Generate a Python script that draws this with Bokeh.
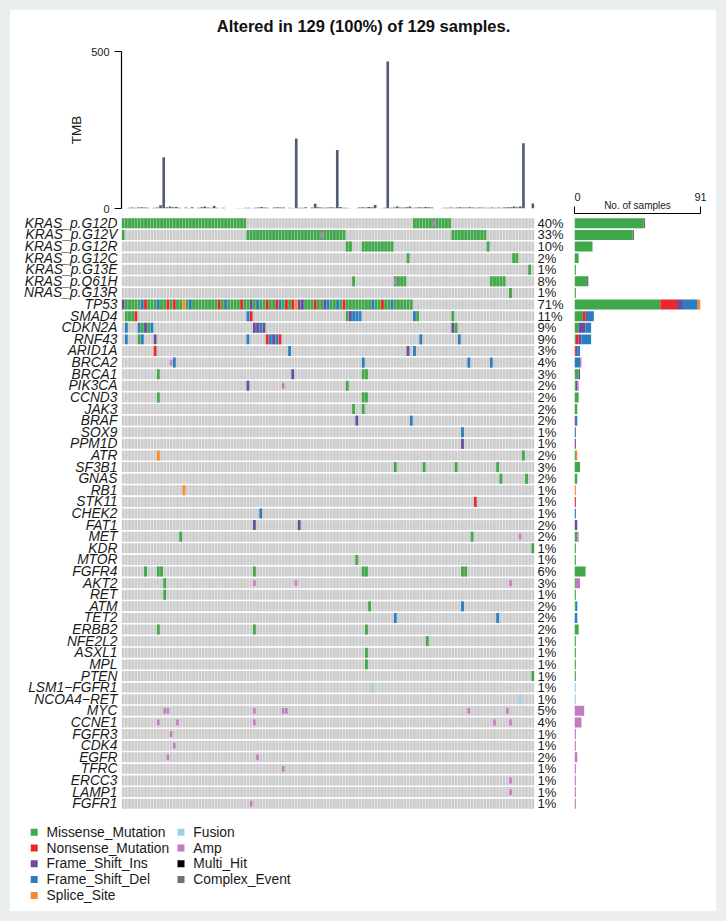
import re
from bokeh.plotting import figure
from bokeh.layouts import column, row
from bokeh.models import Range1d, FixedTicker, LinearAxis, ColumnDataSource
from bokeh.core.properties import value
from bokeh.embed import file_html
from bokeh.resources import INLINE

# ---------------------------------------------------------------- data
N_SAMPLES = 129
title_text = "Altered in 129 (100%) of 129 samples."

genes = [
    "KRAS_p.G12D", "KRAS_p.G12V", "KRAS_p.G12R", "KRAS_p.G12C", "KRAS_p.G13E",
    "KRAS_p.Q61H", "NRAS_p.G13R", "TP53", "SMAD4", "CDKN2A", "RNF43", "ARID1A",
    "BRCA2", "BRCA1", "PIK3CA", "CCND3", "JAK3", "BRAF", "SOX9", "PPM1D", "ATR",
    "SF3B1", "GNAS", "RB1", "STK11", "CHEK2", "FAT1", "MET", "KDR", "MTOR",
    "FGFR4", "AKT2", "RET", "ATM", "TET2", "ERBB2", "NFE2L2", "ASXL1", "MPL",
    "PTEN", "LSM1\u2212FGFR1", "NCOA4\u2212RET", "MYC", "CCNE1", "FGFR3", "CDK4",
    "EGFR", "TFRC", "ERCC3", "LAMP1", "FGFR1",
]

# sample indices (0-based, in plotted order) carrying each alteration type
nonsense = {
    "TP53": [7, 14, 16, 30, 37, 45, 48, 51, 53, 60, 69, 81],
    "SMAD4": [4, 40],
    "RNF43": [45, 49],
    "ARID1A": [10],
    "STK11": [110],
}
frame_shift_ins = {
    "TP53": [0, 40, 55, 56, 63],
    "SMAD4": [71],
    "CDKN2A": [7, 41, 42, 44, 103],
    "RNF43": [10, 47],
    "ARID1A": [89],
    "BRCA1": [53],
    "PIK3CA": [39],
    "BRAF": [73],
    "PPM1D": [106],
    "FAT1": [41, 55],
}
frame_shift_del = {
    "TP53": [6, 11, 21, 32, 42, 49, 64, 67, 78, 84],
    "SMAD4": [39, 72, 73, 74, 91],
    "CDKN2A": [1, 5, 9, 43],
    "RNF43": [1, 6, 39, 46, 48, 93, 105],
    "ARID1A": [52, 91],
    "BRCA2": [16, 75, 108, 115],
    "BRAF": [90],
    "SOX9": [106],
    "CHEK2": [43],
    "ATM": [106],
    "TET2": [85, 117],
}
splice_site = {
    "TP53": [19, 54],
    "ATR": [11],
    "RB1": [19],
}
tp53_samples = list(range(0, 91))
missense = {
    "KRAS_p.G12D": list(range(0, 39)) + list(range(91, 103)),
    "KRAS_p.G12V": [0] + list(range(39, 70)) + list(range(103, 114)),
    "KRAS_p.G12R": [70, 71] + list(range(75, 85)) + [114],
    "KRAS_p.G12C": [89, 122, 123],
    "KRAS_p.G13E": [127],
    "KRAS_p.Q61H": [72] + list(range(85, 89)) + list(range(115, 120)),
    "NRAS_p.G13R": [121],
    "TP53": [s for s in tp53_samples
             if s not in nonsense["TP53"] + frame_shift_ins["TP53"]
             + frame_shift_del["TP53"] + splice_site["TP53"]],
    "SMAD4": [1, 2, 3, 70, 92, 103],
    "CDKN2A": [6, 8, 104],
    "RNF43": [5],
    "BRCA1": [11, 75, 76],
    "PIK3CA": [70],
    "CCND3": [11, 75, 76],
    "JAK3": [72, 75],
    "ATR": [125],
    "SF3B1": [85, 94, 104, 117],
    "GNAS": [118, 126],
    "MET": [18, 109],
    "KDR": [128],
    "MTOR": [73],
    "FGFR4": [7, 11, 12, 41, 75, 76, 106, 107],
    "AKT2": [13],
    "RET": [13],
    "ATM": [77],
    "ERBB2": [11, 41, 76],
    "NFE2L2": [95],
    "ASXL1": [76],
    "MPL": [76],
    "PTEN": [128],
}
fusion = {
    "LSM1\u2212FGFR1": [78],
    "NCOA4\u2212RET": [124],
}
amp = {
    "KRAS_p.G12D": [97],
    "KRAS_p.G12V": [62],
    "KRAS_p.Q61H": [85],
    "BRCA2": [15],
    "PIK3CA": [50],
    "MET": [124],
    "AKT2": [41, 54, 121],
    "MYC": [13, 14, 41, 50, 51, 108, 120],
    "CCNE1": [11, 17, 41, 116, 121],
    "FGFR3": [15],
    "CDK4": [16],
    "EGFR": [14, 42],
    "TFRC": [50],
    "ERCC3": [121],
    "LAMP1": [121],
    "FGFR1": [40],
}

# tumour mutational burden per sample
tmb = [2, 3, 2, 3, 4, 3, 2, 0, 2, 3, 10, 163, 4, 6, 4, 5, 2, 0, 3, 1,
       4, 0, 2, 4, 6, 3, 2, 8, 2, 0, 2, 0, 0, 0, 1, 1, 1, 2, 2, 1,
       2, 3, 5, 3, 2, 0, 3, 4, 3, 3, 0, 2, 1, 223, 2, 2, 4, 0, 3, 15,
       4, 3, 2, 3, 4, 3, 186, 5, 2, 2, 1, 0, 1, 3, 4, 3, 5, 4, 11, 0,
       1, 2, 468, 2, 3, 6, 3, 3, 4, 6, 2, 3, 4, 3, 5, 4, 3, 0, 0, 1,
       2, 2, 3, 2, 3, 4, 3, 3, 4, 3, 2, 3, 3, 2, 2, 3, 2, 3, 2, 3,
       4, 4, 6, 4, 6, 208, 0, 0, 16]

classes = ["Missense_Mutation", "Nonsense_Mutation", "Frame_Shift_Ins",
           "Frame_Shift_Del", "Splice_Site", "Fusion", "Amp", "Multi_Hit",
           "Complex_Event"]
class_colors = {
    "Missense_Mutation": "#3FA84A",
    "Nonsense_Mutation": "#E9272D",
    "Frame_Shift_Ins": "#6A4C9C",
    "Frame_Shift_Del": "#2C7DBE",
    "Splice_Site": "#F7892F",
    "Fusion": "#A6CEE3",
    "Amp": "#C17BBE",
    "Multi_Hit": "#000000",
    "Complex_Event": "#7A6E6A",
}
BG_CELL = "#CCCCCC"
TMB_COLOR = "#525E6E"
FONT = "Liberation Sans"
TEXT = "#1A1A1A"

# ---------------------------------------------------------------- tables
full_cell_classes = {
    "Missense_Mutation": missense,
    "Nonsense_Mutation": nonsense,
    "Frame_Shift_Ins": frame_shift_ins,
    "Frame_Shift_Del": frame_shift_del,
    "Splice_Site": splice_site,
    "Fusion": fusion,
}
gene_row = {g: i for i, g in enumerate(genes)}

mut_cell = {}
for cls, table in full_cell_classes.items():
    for g, samples in table.items():
        for s in samples:
            mut_cell[(g, s)] = cls
amp_cells = {(g, s) for g, samples in amp.items() for s in samples}

# per-gene counts by class for the side bars
counts = {g: {c: 0 for c in classes} for g in genes}
altered = {g: set() for g in genes}
for (g, s), cls in mut_cell.items():
    altered[g].add(s)
    if (g, s) in amp_cells:
        counts[g]["Complex_Event"] += 1
    else:
        counts[g][cls] += 1
for (g, s) in amp_cells:
    altered[g].add(s)
    if (g, s) not in mut_cell:
        counts[g]["Amp"] += 1
pct_labels = ["%d%%" % int(100.0 * len(altered[g]) / N_SAMPLES + 0.5) for g in genes]
max_count = max(len(altered[g]) for g in genes)


def make_fig(**kw):
    p = figure(output_backend="svg", toolbar_location=None, **kw)
    p.outline_line_color = None
    p.grid.visible = False
    return p


# widths of the left column (TMB + grid) and of the side-bar column
LEFT_W = 564
SIDE_W = 706 - LEFT_W

# ---------------------------------------------------------------- title strip
pt_title = make_fig(width=706, height=30, x_range=Range1d(0, 1), y_range=Range1d(0, 1),
                    min_border=0, x_axis_location=None, y_axis_location=None)
pt_title.text(x=[0.5], y=[0.5], text=[title_text], text_align="center",
              text_baseline="middle", text_font=value(FONT), text_font_style="bold",
              text_font_size="16.5px", text_color="#111111")

# ---------------------------------------------------------------- TMB bars
PX_PER_SAMPLE = 413.0 / N_SAMPLES
pt = make_fig(width=LEFT_W, height=173,
              x_range=Range1d(-0.5 - 6.0 / PX_PER_SAMPLE, N_SAMPLES - 0.5),
              y_range=Range1d(0, 500),
              min_border_left=105, min_border_right=40, min_border_top=11,
              min_border_bottom=5, x_axis_location=None)
pt.vbar(x=list(range(N_SAMPLES)), top=tmb, width=0.85, bottom=0,
        fill_color=TMB_COLOR, line_color=None)
ya = pt.yaxis[0]
ya.ticker = FixedTicker(ticks=[0, 500])
ya.minor_tick_line_color = None
ya.major_tick_out = 7
ya.major_tick_in = 0
ya.axis_line_width = 1.2
ya.major_tick_line_width = 1.2
ya.major_label_standoff = 5
ya.major_label_text_font = FONT
ya.major_label_text_font_size = "11px"
ya.major_label_text_color = TEXT
ya.axis_label = "TMB"
ya.axis_label_text_font = FONT
ya.axis_label_text_font_style = "normal"
ya.axis_label_text_font_size = "13.5px"
ya.axis_label_text_color = TEXT
ya.axis_label_standoff = 4

# ---------------------------------------------------------------- oncoplot grid
n_genes = len(genes)
pm = make_fig(width=LEFT_W, height=599,
              x_range=Range1d(-0.5, N_SAMPLES - 0.5),
              y_range=Range1d(n_genes - 0.5, -0.5),
              min_border_left=111, min_border_right=40, min_border_top=4,
              min_border_bottom=3, x_axis_location=None)

bg = ColumnDataSource(dict(
    x=[s for g in genes for s in range(N_SAMPLES)],
    y=[gene_row[g] for g in genes for s in range(N_SAMPLES)],
))
pm.rect(x="x", y="y", width=0.88, height=0.86, source=bg, fill_color=BG_CELL, line_color=None)

mut_src = ColumnDataSource(dict(
    x=[s for (g, s) in mut_cell],
    y=[gene_row[g] for (g, s) in mut_cell],
    c=[class_colors[c] for c in mut_cell.values()],
))
pm.rect(x="x", y="y", width=0.88, height=0.86, source=mut_src, fill_color="c", line_color=None)

amp_list = sorted(amp_cells, key=lambda t: (gene_row[t[0]], t[1]))
amp_src = ColumnDataSource(dict(
    x=[s for (g, s) in amp_list],
    y=[gene_row[g] for (g, s) in amp_list],
))
pm.rect(x="x", y="y", width=0.8, height=0.5, source=amp_src,
        fill_color=class_colors["Amp"], line_color=None)

la = pm.yaxis[0]
la.ticker = FixedTicker(ticks=list(range(n_genes)))
la.major_label_overrides = {i: g for i, g in enumerate(genes)}
la.axis_line_color = None
la.major_tick_line_color = None
la.minor_tick_line_color = None
la.major_tick_out = 0
la.major_tick_in = 0
la.major_label_standoff = 4
la.major_label_text_font = FONT
la.major_label_text_font_style = "italic"
la.major_label_text_font_size = "13.8px"
la.major_label_text_color = TEXT

ra = LinearAxis(ticker=FixedTicker(ticks=list(range(n_genes))),
                major_label_overrides={i: t for i, t in enumerate(pct_labels)})
ra.axis_line_color = None
ra.major_tick_line_color = None
ra.minor_tick_line_color = None
ra.major_tick_out = 0
ra.major_tick_in = 0
ra.major_label_standoff = 3
ra.major_label_text_font = FONT
ra.major_label_text_font_size = "13px"
ra.major_label_text_color = TEXT
pm.add_layout(ra, "right")

# ---------------------------------------------------------------- side bars
ROW_PX = 592.0 / n_genes
ps = make_fig(width=SIDE_W, height=772,
              x_range=Range1d(0, max_count),
              y_range=Range1d(n_genes - 0.5, -0.5 - 4.0 / ROW_PX),
              min_border_left=0, min_border_right=SIDE_W - 126, min_border_top=173,
              min_border_bottom=3, x_axis_location="above", y_axis_location=None)
sb = dict(y=[], left=[], right=[], c=[])
for g in genes:
    acc = 0
    for c in classes:
        n = counts[g][c]
        if n:
            sb["y"].append(gene_row[g])
            sb["left"].append(acc)
            sb["right"].append(acc + n)
            sb["c"].append(class_colors[c])
            acc += n
ps.hbar(y="y", left="left", right="right", height=0.86, source=ColumnDataSource(sb),
        fill_color="c", line_color=None)
xa = ps.xaxis[0]
xa.ticker = FixedTicker(ticks=[0, max_count])
xa.minor_tick_line_color = None
xa.major_tick_out = 7
xa.major_tick_in = 0
xa.axis_line_width = 1.0
xa.major_label_standoff = 6
xa.major_label_text_font = FONT
xa.major_label_text_font_size = "11px"
xa.major_label_text_color = TEXT
xa.axis_label = "No. of samples"
xa.axis_label_text_font = FONT
xa.axis_label_text_font_style = "normal"
xa.axis_label_text_font_size = "10px"
xa.axis_label_text_color = TEXT
xa.axis_label_standoff = -21

# ---------------------------------------------------------------- legend
pl = make_fig(width=706, height=99, x_range=Range1d(0, 706), y_range=Range1d(99, 0),
              min_border=0, x_axis_location=None, y_axis_location=None)
LEG_ROWS = 5
leg = dict(x=[], y=[], tx=[], label=[], c=[])
for i, c in enumerate(classes):
    col, r = divmod(i, LEG_ROWS)
    leg["x"].append(23.7 + col * 146.8)
    leg["y"].append(19.7 + r * 15.8)
    leg["tx"].append(36.0 + col * 146.8)
    leg["label"].append(c)
    leg["c"].append(class_colors[c])
lsrc = ColumnDataSource(leg)
pl.scatter(x="x", y="y", marker="square", size=7, source=lsrc, fill_color="c", line_color=None)
pl.text(x="tx", y="y", text="label", source=lsrc, text_align="left", text_baseline="middle",
        text_font=value(FONT), text_font_size="13.8px", text_color=TEXT)

WHITE = {"background-color": "white"}
layout = column(pt_title,
                row(column(pt, pm, styles=WHITE), ps, styles=WHITE),
                pl, styles=WHITE)

html = file_html(layout, INLINE, title="Oncoplot")
# pad the page and tint the margin around the white panel
head, sep, rest = html.partition("</head>")
rest = re.sub(r"<body[^>]*>",
              '<body style="margin:0;padding:10px;background-color:#ECEFF0;">', rest, count=1)
open("out.html", "w").write(head + sep + rest)
